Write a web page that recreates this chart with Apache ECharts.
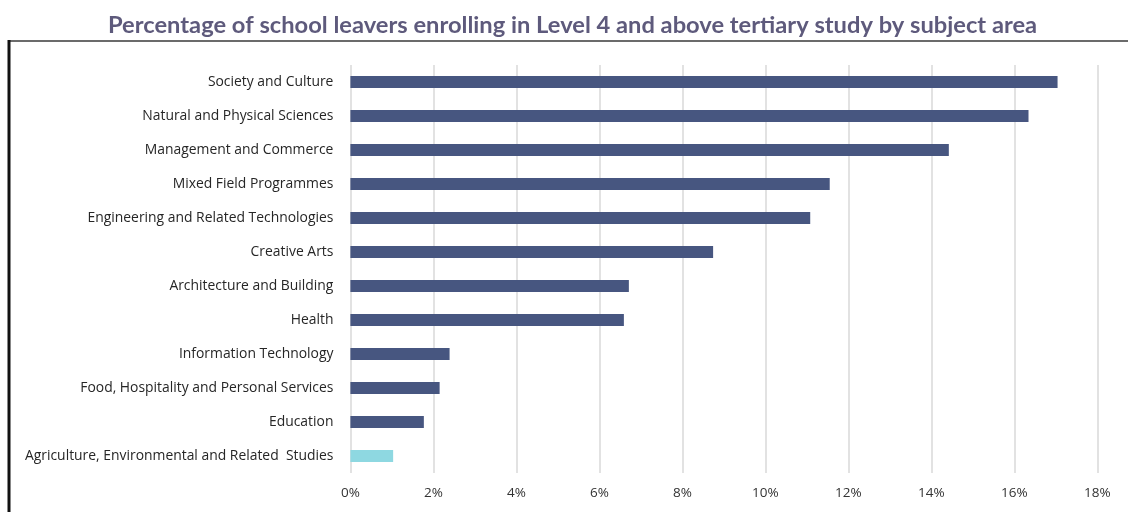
<!DOCTYPE html>
<html>
<head>
<meta charset="utf-8">
<title>School leavers by subject area</title>
<script src="https://cdn.jsdelivr.net/npm/echarts@6/dist/echarts.min.js"></script>
<style>
  html, body { margin: 0; padding: 0; background: #ffffff; }
  #chart { width: 1128px; height: 512px; }
</style>
</head>
<body>
<div id="chart"></div>
<script>
// Subject areas, top to bottom
const subjects = [
  'Society and Culture',
  'Natural and Physical Sciences',
  'Management and Commerce',
  'Mixed Field Programmes',
  'Engineering and Related Technologies',
  'Creative Arts',
  'Architecture and Building',
  'Health',
  'Information Technology',
  'Food, Hospitality and Personal Services',
  'Education',
  'Agriculture, Environmental and Related  Studies'
];

// Share of school leavers enrolling (%)
const shares = [17.04, 16.34, 14.42, 11.55, 11.08, 8.74, 6.71, 6.59, 2.39, 2.15, 1.77, 1.03];

// Subject area singled out with its own colour
const highlighted = ['Agriculture, Environmental and Related  Studies'];

// Percentage axis ticks
const pctTicks = [0, 2, 4, 6, 8, 10, 12, 14, 16, 18];

const BAR = '#475680';
const HIGHLIGHT = '#8ed8e1';

const chart = echarts.init(document.getElementById('chart'), null, { renderer: 'canvas' });

chart.setOption({
  backgroundColor: '#ffffff',
  animation: false,
  title: {
    text: 'Percentage of school leavers enrolling in Level 4 and above tertiary study by subject area',
    left: 103,
    top: 8,
    textStyle: {
      fontFamily: 'Lato',
      fontWeight: 'bold',
      fontSize: 23.7,
      color: '#5e5a7c'
    }
  },
  graphic: [
    {
      type: 'line',
      shape: { x1: 9, y1: 41, x2: 1128, y2: 41 },
      style: { stroke: '#6b6b6b', lineWidth: 2 },
      silent: true
    },
    {
      type: 'line',
      shape: { x1: 9, y1: 40, x2: 9, y2: 512 },
      style: { stroke: '#111111', lineWidth: 3 },
      silent: true
    }
  ],
  grid: {
    left: 350.4,
    right: 30.6,
    top: 65,
    bottom: 39,
    containLabel: false
  },
  xAxis: {
    type: 'value',
    min: pctTicks[0],
    max: pctTicks[pctTicks.length - 1],
    interval: pctTicks[1] - pctTicks[0],
    axisLine: { show: false },
    axisTick: { show: false },
    axisLabel: {
      formatter: '{value}%',
      margin: 13,
      fontFamily: 'Open Sans',
      fontSize: 13.5,
      color: '#333333'
    },
    splitLine: {
      show: true,
      lineStyle: { color: '#d9d9d9', width: 1.5 }
    }
  },
  yAxis: {
    type: 'category',
    data: subjects,
    inverse: true,
    axisLine: { show: false },
    axisTick: { show: false },
    axisLabel: {
      margin: 17,
      fontFamily: 'Open Sans',
      fontSize: 13.9,
      color: '#262626'
    }
  },
  series: [
    {
      type: 'bar',
      data: shares.map((v, i) => ({
        value: v,
        itemStyle: { color: highlighted.includes(subjects[i]) ? HIGHLIGHT : BAR }
      })),
      barWidth: 12
    }
  ]
});
</script>
</body>
</html>
